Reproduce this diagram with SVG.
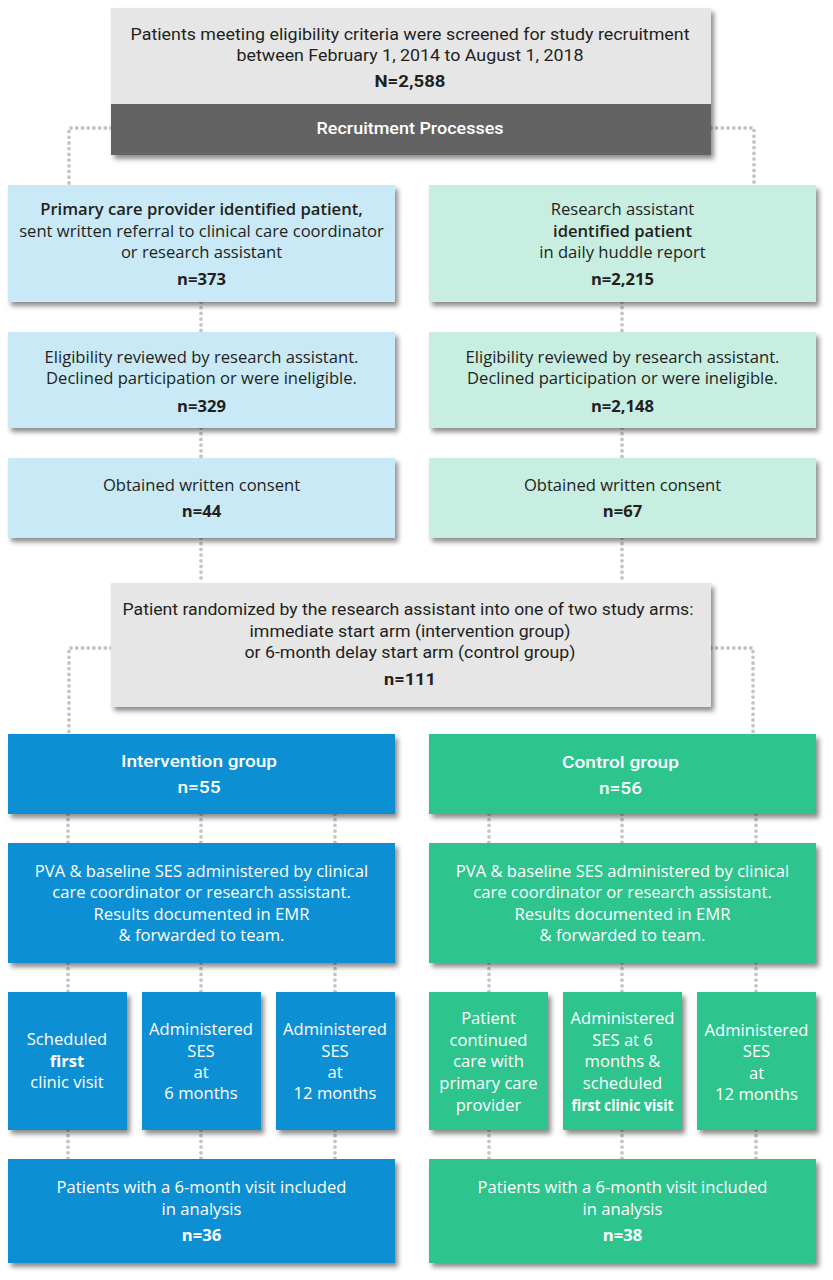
<svg xmlns="http://www.w3.org/2000/svg" width="833" height="1280" viewBox="0 0 833 1280">
<defs>
<filter id="sh" x="-5%" y="-10%" width="115%" height="130%">
<feDropShadow dx="3" dy="4" stdDeviation="2.5" flood-color="#000" flood-opacity="0.45"/>
</filter>
<style>
.t{font-family:"Open Sans","Noto Sans",sans-serif;font-size:16.6px;fill:#231f20;text-anchor:middle}
.c{font-family:Roboto,"Liberation Sans",sans-serif;font-size:17px;fill:#231f20;text-anchor:middle}
.w{fill:#fff}
.b{font-weight:700}
.m{font-weight:600}
.conn{fill:none;stroke:#c4c4c4;stroke-width:3.8;stroke-linecap:round;stroke-dasharray:0 5.7}
.lb{fill:#c9e9f6}
.lg{fill:#c7eee0}
.db{fill:#0b8fd3}
.dg{fill:#2dc48e}
.gr{fill:#e6e6e6}
</style>
</defs>
<rect width="833" height="1280" fill="#fff"/>
<g id="connectors">
<path class="conn" d="M111,128 H69 V185"/>
<path class="conn" d="M711,128 H754 V185"/>
<path class="conn" d="M201,302 V332 M201,428 V458 M201,538 V583"/>
<path class="conn" d="M622,302 V332 M622,428 V458 M622,538 V583"/>
<path class="conn" d="M111,648 H69 V734"/>
<path class="conn" d="M711,648 H753 V734"/>
<path class="conn" d="M68,814 V843 M201,814 V843 M335,814 V843 M68,963 V992 M201,963 V992 M335,963 V992 M68,1130 V1159 M201,1130 V1159 M335,1130 V1159"/>
<path class="conn" d="M489,814 V843 M622,814 V843 M756,814 V843 M489,963 V992 M622,963 V992 M756,963 V992 M489,1130 V1159 M622,1130 V1159 M756,1130 V1159"/>
</g>
<g id="screened">
<g filter="url(#sh)">
<rect class="gr" x="111" y="8" width="600" height="97"/>
<rect x="111" y="104" width="600" height="51" fill="#636363"/>
</g>
<text class="c" x="410" y="40" textLength="559" lengthAdjust="spacingAndGlyphs">Patients meeting eligibility criteria were screened for study recruitment</text>
<text class="c" x="410" y="61" textLength="347" lengthAdjust="spacingAndGlyphs">between February 1, 2014 to August 1, 2018</text>
<text class="c b" x="410" y="87" textLength="71" lengthAdjust="spacingAndGlyphs">N=2,588</text>
<text class="c w" x="410" y="134" font-weight="500" textLength="187" lengthAdjust="spacingAndGlyphs">Recruitment Processes</text>
</g>
<g id="pcp-identified">
<rect class="lb" x="8" y="185" width="387" height="117" filter="url(#sh)"/>
<text class="t m" x="201.5" y="215">Primary care provider identified patient,</text>
<text class="t" x="201.5" y="237">sent written referral to clinical care coordinator</text>
<text class="t" x="201.5" y="258">or research assistant</text>
<text class="t b" x="201.5" y="285">n=373</text>
</g>
<g id="ra-identified">
<rect class="lg" x="429" y="185" width="387" height="117" filter="url(#sh)"/>
<text class="t" x="622.5" y="215">Research assistant</text>
<text class="t m" x="622.5" y="237">identified patient</text>
<text class="t" x="622.5" y="258">in daily huddle report</text>
<text class="t b" x="622.5" y="285">n=2,215</text>
</g>
<g id="eligibility-left">
<rect class="lb" x="8" y="332" width="387" height="96" filter="url(#sh)"/>
<text class="t" x="201.5" y="363">Eligibility reviewed by research assistant.</text>
<text class="t" x="201.5" y="384">Declined participation or were ineligible.</text>
<text class="t b" x="201.5" y="412">n=329</text>
</g>
<g id="eligibility-right">
<rect class="lg" x="429" y="332" width="387" height="96" filter="url(#sh)"/>
<text class="t" x="622.5" y="363">Eligibility reviewed by research assistant.</text>
<text class="t" x="622.5" y="384">Declined participation or were ineligible.</text>
<text class="t b" x="622.5" y="412">n=2,148</text>
</g>
<g id="consent-left">
<rect class="lb" x="8" y="458" width="387" height="80" filter="url(#sh)"/>
<text class="t" x="201.5" y="491">Obtained written consent</text>
<text class="t b" x="201.5" y="517">n=44</text>
</g>
<g id="consent-right">
<rect class="lg" x="429" y="458" width="387" height="80" filter="url(#sh)"/>
<text class="t" x="622.5" y="491">Obtained written consent</text>
<text class="t b" x="622.5" y="517">n=67</text>
</g>
<g id="randomized">
<rect class="gr" x="111" y="583" width="600" height="124" filter="url(#sh)"/>
<text class="c" x="408" y="615" textLength="571" lengthAdjust="spacingAndGlyphs">Patient randomized by the research assistant into one of two study arms:</text>
<text class="c" x="410" y="637" textLength="321" lengthAdjust="spacingAndGlyphs">immediate start arm (intervention group)</text>
<text class="c" x="410" y="658" textLength="331" lengthAdjust="spacingAndGlyphs">or 6-month delay start arm (control group)</text>
<text class="c b" x="410" y="685" textLength="52" lengthAdjust="spacingAndGlyphs">n=111</text>
</g>
<g id="intervention-group">
<rect class="db" x="8" y="734" width="387" height="80" filter="url(#sh)"/>
<text class="c w" x="199" y="767" font-weight="500" textLength="156" lengthAdjust="spacingAndGlyphs">Intervention group</text>
<text class="c w" x="199" y="793" font-weight="500" textLength="43" lengthAdjust="spacingAndGlyphs">n=55</text>
</g>
<g id="control-group">
<rect class="dg" x="429" y="734" width="387" height="80" filter="url(#sh)"/>
<text class="c w" x="620.5" y="768" font-weight="500" textLength="117" lengthAdjust="spacingAndGlyphs">Control group</text>
<text class="c w" x="620.5" y="794" font-weight="500" textLength="43" lengthAdjust="spacingAndGlyphs">n=56</text>
</g>
<g id="pva-left">
<rect class="db" x="8" y="843" width="387" height="120" filter="url(#sh)"/>
<text class="t w" x="201.5" y="877">PVA &amp; baseline SES administered by clinical</text>
<text class="t w" x="201.5" y="898">care coordinator or research assistant.</text>
<text class="t w" x="201.5" y="920">Results documented in EMR</text>
<text class="t w" x="201.5" y="941">&amp; forwarded to team.</text>
</g>
<g id="pva-right">
<rect class="dg" x="429" y="843" width="387" height="120" filter="url(#sh)"/>
<text class="t w" x="622.5" y="877">PVA &amp; baseline SES administered by clinical</text>
<text class="t w" x="622.5" y="898">care coordinator or research assistant.</text>
<text class="t w" x="622.5" y="920">Results documented in EMR</text>
<text class="t w" x="622.5" y="941">&amp; forwarded to team.</text>
</g>
<g id="int-first-visit">
<rect class="db" x="8" y="992" width="119" height="138" filter="url(#sh)"/>
<text class="t w" x="67" y="1045">Scheduled</text>
<text class="t w b" x="67" y="1067">first</text>
<text class="t w" x="67" y="1088">clinic visit</text>
</g>
<g id="int-ses-6">
<rect class="db" x="142" y="992" width="119" height="138" filter="url(#sh)"/>
<text class="t w" x="201" y="1035">Administered</text>
<text class="t w" x="201" y="1057">SES</text>
<text class="t w" x="201" y="1078">at</text>
<text class="t w" x="201" y="1099">6 months</text>
</g>
<g id="int-ses-12">
<rect class="db" x="276" y="992" width="119" height="138" filter="url(#sh)"/>
<text class="t w" x="335" y="1035">Administered</text>
<text class="t w" x="335" y="1057">SES</text>
<text class="t w" x="335" y="1078">at</text>
<text class="t w" x="335" y="1099">12 months</text>
</g>
<g id="ctl-continued">
<rect class="dg" x="429" y="992" width="119" height="138" filter="url(#sh)"/>
<text class="t w" x="488.5" y="1024">Patient</text>
<text class="t w" x="488.5" y="1046">continued</text>
<text class="t w" x="488.5" y="1067">care with</text>
<text class="t w" x="488.5" y="1089">primary care</text>
<text class="t w" x="488.5" y="1111">provider</text>
</g>
<g id="ctl-ses-6">
<rect class="dg" x="563" y="992" width="119" height="138" filter="url(#sh)"/>
<text class="t w" x="622.5" y="1024">Administered</text>
<text class="t w" x="622.5" y="1046">SES at 6</text>
<text class="t w" x="622.5" y="1067">months &amp;</text>
<text class="t w" x="622.5" y="1089">scheduled</text>
<text class="t w b" x="622.5" y="1111" textLength="102" lengthAdjust="spacingAndGlyphs">first clinic visit</text>
</g>
<g id="ctl-ses-12">
<rect class="dg" x="697" y="992" width="119" height="138" filter="url(#sh)"/>
<text class="t w" x="756.5" y="1036">Administered</text>
<text class="t w" x="756.5" y="1057">SES</text>
<text class="t w" x="756.5" y="1079">at</text>
<text class="t w" x="756.5" y="1100">12 months</text>
</g>
<g id="analysis-left">
<rect class="db" x="8" y="1159" width="387" height="104" filter="url(#sh)"/>
<text class="t w" x="201.5" y="1193">Patients with a 6-month visit included</text>
<text class="t w" x="201.5" y="1215">in analysis</text>
<text class="t w b" x="201.5" y="1241">n=36</text>
</g>
<g id="analysis-right">
<rect class="dg" x="429" y="1159" width="387" height="104" filter="url(#sh)"/>
<text class="t w" x="622.5" y="1193">Patients with a 6-month visit included</text>
<text class="t w" x="622.5" y="1215">in analysis</text>
<text class="t w b" x="622.5" y="1241">n=38</text>
</g>
</svg>
